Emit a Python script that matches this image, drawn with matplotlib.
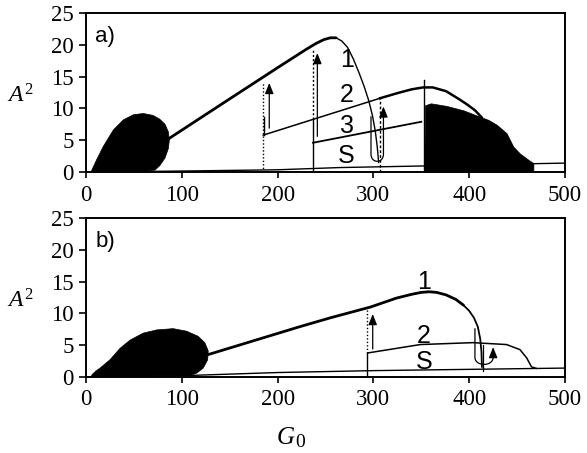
import matplotlib
matplotlib.use("Agg")
import matplotlib.pyplot as plt
from matplotlib.patches import FancyArrowPatch
from matplotlib.path import Path

plt.rcParams['mathtext.fontset'] = 'custom'
plt.rcParams['mathtext.rm'] = 'Liberation Serif'
plt.rcParams['mathtext.it'] = 'Liberation Serif:italic'

SERIF = 'Liberation Serif'
SANS = 'Liberation Sans'

# ---- panel a) data (read off the picture) ----
blob_a_x = [5.8, 11, 18, 28.5, 39, 49.4, 59.8, 70, 77, 82.5, 86, 87, 86, 82.5, 77, 72, 60, 5.8]
blob_a_y = [0.2, 1.9, 4.0, 6.6, 8.2, 9.0, 9.2, 8.9, 8.3, 7.5, 6.3, 5.0, 3.7, 2.2, 1.0, 0.3, 0.1, 0.1]

c1a_x = [86, 150, 200, 230, 240, 248, 255, 261, 267, 273, 279, 285, 290, 295, 299, 302, 304, 305.5]
c1a_y = [5.2, 11.5, 16.4, 19.3, 20.2, 20.8, 21.1, 21.1, 20.6, 19.6, 17.8, 15.6, 13.6, 11.3, 8.9, 6.4, 4.0, 1.5]

c2a_x = [185, 307, 325, 340, 352, 362, 376, 390, 398, 406, 413]
c2a_y = [5.8, 11.6, 12.4, 13.0, 13.3, 13.3, 12.7, 11.4, 10.6, 9.7, 8.6]

c3a_x = [237, 350]
c3a_y = [4.6, 7.9]

sa_x = [0, 100, 200, 265, 352, 465, 500]
sa_y = [0.0, 0.15, 0.35, 0.7, 0.95, 1.3, 1.4]

cloud_a_x = [353, 354, 360, 376, 394, 411, 420, 429, 439, 446, 453, 462, 467]
cloud_a_y = [0, 10.5, 10.8, 10.4, 9.7, 8.7, 8.2, 7.4, 6.1, 4.0, 2.9, 1.9, 1.4]

# ---- panel b) data ----
blob_b_x = [5.9, 10, 14.6, 25, 35.5, 46, 59.8, 73.8, 91, 105, 117, 124, 127.6, 127, 122.4, 115.5, 108, 5.9]
blob_b_y = [0.3, 0.9, 1.4, 2.7, 4.5, 5.8, 6.9, 7.4, 7.6, 7.2, 6.4, 5.4, 4.1, 2.7, 1.4, 0.6, 0.2, 0.1]

c1b_x = [127, 223, 255, 297, 324, 340, 350, 358, 366, 376, 386, 394,
         400, 405, 409, 411.5, 412.8, 413.3]
c1b_y = [3.5, 7.9, 9.3, 11.0, 12.4, 13.0, 13.3, 13.4, 13.3, 12.9, 12.2, 11.3,
         10.4, 9.3, 7.9, 6.0, 4.0, 1.6]

c2b_x = [295, 349, 404, 439, 453, 460, 465, 470]
c2b_y = [3.8, 5.1, 5.4, 5.1, 4.3, 3.0, 1.6, 1.35]

sb_x = [0, 100, 200, 300, 400, 500]
sb_y = [0.0, 0.2, 0.7, 1.0, 1.2, 1.4]

x_ticks = [0, 100, 200, 300, 400, 500]
y_ticks = [0, 5, 10, 15, 20, 25]


def u_arrow(ax, xl, ytop_l, xr, ytop_r, ybot):
    """hysteresis U-turn with arrow head at the end"""
    d = 1.2
    verts = [(xl, ytop_l), (xl, ybot + d), (xl, ybot - 0.3), (xr, ybot - 0.3),
             (xr, ybot + d), (xr, ytop_r)]
    codes = [Path.MOVETO, Path.LINETO, Path.CURVE4, Path.CURVE4, Path.CURVE4, Path.LINETO]
    p = FancyArrowPatch(path=Path(verts, codes), arrowstyle='-|>,head_length=0.8,head_width=0.32',
                        mutation_scale=8, lw=0.9, color='k')
    ax.add_patch(p)


def up_arrow(ax, x, y0, y1):
    ax.annotate('', xy=(x, y1), xytext=(x, y0),
                arrowprops=dict(arrowstyle='-|>,head_length=0.8,head_width=0.32',
                                mutation_scale=8, lw=0.9, color='k',
                                shrinkA=0, shrinkB=0))


def style_axes(ax, label):
    ax.set_xlim(0, 500)
    ax.set_ylim(0, 25)
    ax.set_xticks(x_ticks)
    ax.set_yticks(y_ticks)
    for s in ax.spines.values():
        s.set_linewidth(1.4)
    ax.tick_params(axis='x', direction='out', length=4, width=1.2, pad=5)
    ax.tick_params(axis='y', direction='out', length=5, width=1.2, pad=4)
    for t in ax.get_xticklabels() + ax.get_yticklabels():
        t.set_fontfamily(SERIF)
        t.set_fontsize(16.5)
    ax.text(-0.165, 0.44, '$A^2$', transform=ax.transAxes, fontsize=17)
    ax.text(20, 21.3, label, fontsize=16, family=SANS, ha='center', va='center')


fig = plt.figure(figsize=(5.87, 4.53), dpi=100)
ax_a = fig.add_axes([0.1465, 0.6203, 0.816, 0.351])
ax_b = fig.add_axes([0.1465, 0.1678, 0.816, 0.351])

# ---------- a) ----------
ax = ax_a
ax.fill(blob_a_x, blob_a_y, color='k', lw=0.5)
ax.fill_between(cloud_a_x, 0, cloud_a_y, color='k', lw=0.5)
ax.plot(c1a_x[:8], c1a_y[:8], color='k', lw=2.0, solid_capstyle='round')
ax.plot(c1a_x[7:], c1a_y[7:], color='k', lw=1.0)
ax.plot(c2a_x[:2], c2a_y[:2], color='k', lw=1.1)
ax.plot(c2a_x[1:], c2a_y[1:], color='k', lw=1.8)
ax.plot(c3a_x, c3a_y, color='k', lw=1.3)
ax.plot(sa_x, sa_y, color='k', lw=1.0)

ax.plot([184.5, 184.5], [0, 14.0], color='k', lw=1.0, ls=(0, (1, 1.5)))
ax.plot([186, 186], [5.8, 8.7], color='k', lw=1.0)
ax.plot([236.5, 236.5], [0, 8.4], color='k', lw=1.0)
ax.plot([236.5, 236.5], [8.4, 19.2], color='k', lw=1.0, ls=(0, (1.5, 1.5)))
ax.plot([307, 307], [0, 11.6], color='k', lw=1.0, ls=(0, (2, 1.5)))
ax.plot([353, 353], [0, 14.5], color='k', lw=1.0)

up_arrow(ax, 191.3, 6.9, 14.0)
up_arrow(ax, 241.5, 5.6, 18.7)
u_arrow(ax, 297.5, 8.7, 310.5, 10.3, 1.6)

for s, y in [('1', 17.6), ('2', 12.1), ('3', 7.2), ('S', 2.5)]:
    ax.text(272, y, s, fontsize=18, family=SANS, ha='center', va='center')

style_axes(ax, 'a)')

# ---------- b) ----------
ax = ax_b
ax.fill(blob_b_x, blob_b_y, color='k', lw=0.5)
ax.plot(c1b_x[:12], c1b_y[:12], color='k', lw=2.0, solid_capstyle='round')
ax.plot(c1b_x[11:], c1b_y[11:], color='k', lw=1.3)
ax.plot(c2b_x, c2b_y, color='k', lw=1.1)
ax.plot(sb_x, sb_y, color='k', lw=1.0)

ax.plot([293.5, 293.5], [0, 3.8], color='k', lw=1.0)
ax.plot([293.5, 293.5], [3.8, 10.8], color='k', lw=1.0, ls=(0, (1, 1.5)))
ax.plot([414.7, 414.7], [1.0, 5.0], color='k', lw=0.9)

up_arrow(ax, 299.3, 4.4, 9.9)
u_arrow(ax, 406, 7.6, 425, 4.7, 1.9)

for s, y in [('1', 15.0), ('2', 6.4), ('S', 2.4)]:
    ax.text(353, y, s, fontsize=18, family=SANS, ha='center', va='center')

style_axes(ax, 'b)')

# G_0 label: italic G with a nearly full-size upright 0
ax_b.text(0.435, -0.385, 'G', transform=ax_b.transAxes, fontsize=18,
          family=SERIF, style='italic', ha='right', va='center')
ax_b.text(0.436, -0.41, '0', transform=ax_b.transAxes, fontsize=14,
          family=SERIF, ha='left', va='center')

fig.savefig('out.png', dpi=100)
